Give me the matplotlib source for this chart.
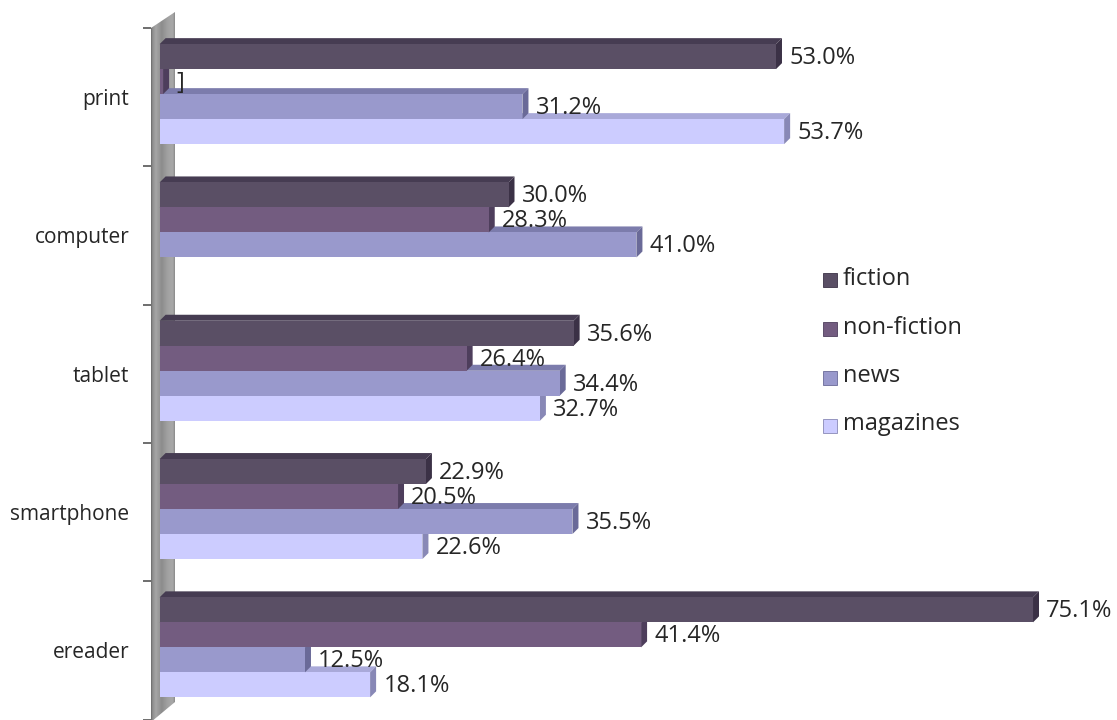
import numpy as np
import matplotlib
matplotlib.use("Agg")
import matplotlib.pyplot as plt
from matplotlib.patches import Polygon, Rectangle
from matplotlib.colors import LinearSegmentedColormap

# ---- data -------------------------------------------------------------
categories = ["print", "computer", "tablet", "smartphone", "ereader"]
series = ["fiction", "non-fiction", "news", "magazines"]
fiction = [53.0, 30.0, 35.6, 22.9, 75.1]
non_fiction = [0.3, 28.3, 26.4, 20.5, 41.4]
news = [31.2, 41.0, 34.4, 35.5, 12.5]
magazines = [53.7, np.nan, 32.7, 22.6, 18.1]
# data label shown on the tiny print / non-fiction bar
label_overrides = {("non-fiction", "print"): "]"}

values = [fiction, non_fiction, news, magazines]

# ---- styling ----------------------------------------------------------
front_colors = ["#5a4f65", "#735c80", "#9999cc", "#ccccff"]
top_colors = ["#463c52", "#5d4a6a", "#7c7cac", "#a9a9d9"]
side_colors = ["#3b3146", "#4e3e5c", "#6a6a98", "#8888b6"]
text_color = "#262626"
FONT = ["Open Sans", "DejaVu Sans"]
plt.rcParams["font.family"] = FONT

W, H, DPI = 1117, 720, 100
fig = plt.figure(figsize=(W / DPI, H / DPI), dpi=DPI)
fig.patch.set_facecolor("white")

# background layer in pixel units (origin top-left) for the side wall + legend
bg = fig.add_axes([0, 0, 1, 1], zorder=0)
bg.set_xlim(0, W)
bg.set_ylim(H, 0)
bg.axis("off")

# plot area: x = 0 at px 159.6, 11.63 px per percent; categories 138.3 px apart
x0_px, px_per_pct = 159.6, 11.63
xmax = 82.0
top_px, bot_px = 28.0, 719.5
ax = fig.add_axes([x0_px / W, (H - bot_px) / H,
                   xmax * px_per_pct / W, (bot_px - top_px) / H], zorder=1)
ax.patch.set_visible(False)
ax.set_xlim(0, xmax)
ax.set_ylim(len(categories) - 0.5, -0.5)
px_per_cat = (bot_px - top_px) / len(categories)

# left wall (3-D floor of the bar chart)
wall_cmap = LinearSegmentedColormap.from_list(
    "wall", [(0.0, "#6a6a6a"), (0.06, "#8f8f8f"), (0.2, "#a6a6a6"),
             (0.45, "#8c8c8c"), (0.7, "#a2a2a2"), (0.92, "#a8a8a8"), (1.0, "#8a8a8a")])
wall_poly = Polygon([(151, 28), (175, 12), (175, 702), (151, 722)], closed=True,
                    facecolor="none", edgecolor="none", transform=bg.transData)
bg.add_patch(wall_poly)
grad = np.linspace(0, 1, 64)[None, :].repeat(4, axis=0)
im = bg.imshow(grad, extent=(151, 175, 722, 12), cmap=wall_cmap, aspect="auto",
               interpolation="bilinear")
im.set_clip_path(wall_poly)

# ---- 3-D bars ------------------------------------------------------------
bar_h = 25.0 / px_per_cat
shift = -3.0 / px_per_cat
offsets = [(k - 1.5) * bar_h + shift for k in range(len(series))]
dx = 6.0 / px_per_pct
dy = 6.0 / px_per_cat
ypos = np.arange(len(categories))

for k, (name, vals) in enumerate(zip(series, values)):
    z = 10 - 2 * k
    vals = np.asarray(vals, dtype=float)
    yc = ypos + offsets[k]
    ax.barh(yc, vals, height=bar_h, left=0, color=front_colors[k],
            zorder=z, linewidth=0, clip_on=False)
    for i, v in enumerate(vals):
        if np.isnan(v):
            continue
        yt = yc[i] - bar_h / 2
        yb = yc[i] + bar_h / 2
        ax.add_patch(Polygon([(0, yt), (v, yt), (v + dx, yt - dy), (dx, yt - dy)],
                             closed=True, facecolor=top_colors[k], edgecolor="none",
                             zorder=z - 0.5, clip_on=False))
        ax.add_patch(Polygon([(v, yt), (v, yb), (v + dx, yb - dy), (v + dx, yt - dy)],
                             closed=True, facecolor=side_colors[k], edgecolor="none",
                             zorder=z - 0.5, clip_on=False))
        label = label_overrides.get((name, categories[i]), f"{v:.1f}%")
        ax.annotate(label, (v, yc[i]), xytext=(9.6, -1.0), textcoords="offset points",
                    ha="left", va="center", fontsize=17, color=text_color,
                    zorder=30, annotation_clip=False)

# ---- category axis -------------------------------------------------------
for s in ax.spines.values():
    s.set_visible(False)
ax.spines["left"].set_position(("outward", 8.3 * 72 / DPI))
ax.set_xticks([])
ax.set_yticks(ypos, categories)
ax.set_yticks(np.arange(-0.5, len(categories), 1.0), minor=True)
ax.tick_params(axis="y", which="major", length=0, pad=22 * 72 / DPI,
               labelsize=15, labelcolor=text_color)
ax.tick_params(axis="y", which="minor", length=8 * 72 / DPI, width=1.2,
               color="#555555")

# ---- legend ----------------------------------------------------------------
legend_rows = [280, 329, 377.5, 425.5]
for k, name in enumerate(series):
    yc = legend_rows[k]
    bg.add_patch(Rectangle((823, yc - 7), 14, 14, facecolor=front_colors[k],
                           edgecolor=side_colors[k], linewidth=0.6))
    bg.text(843, yc - 1, name, ha="left", va="center", fontsize=17,
            color=text_color)

fig.savefig("out.png", dpi=DPI, facecolor="white")
